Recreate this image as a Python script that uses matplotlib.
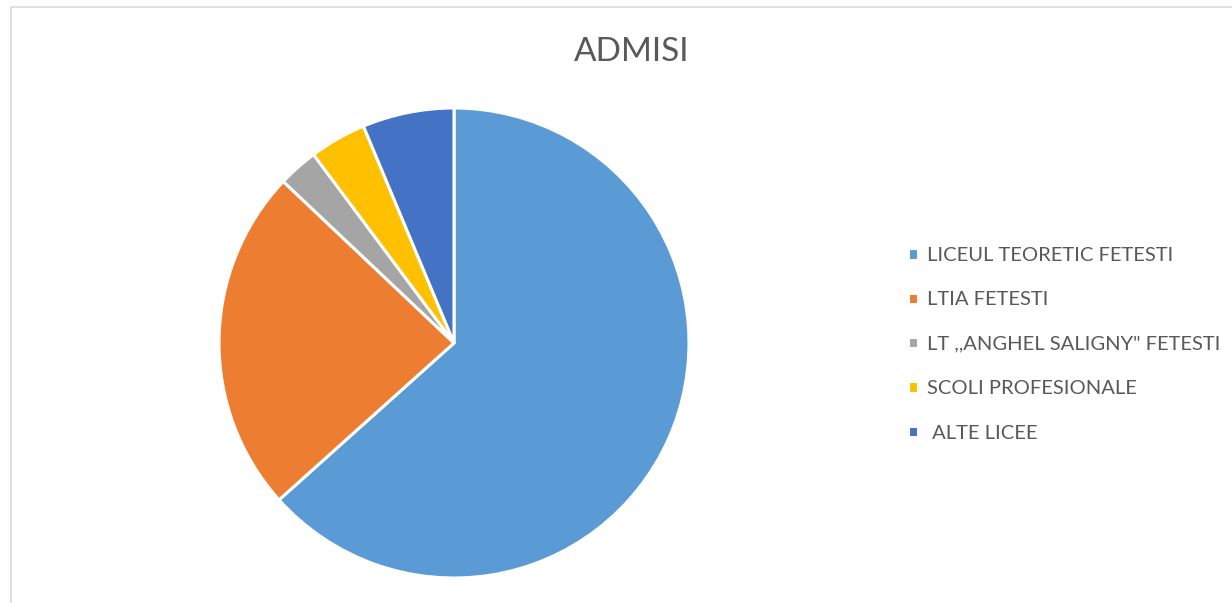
import matplotlib.pyplot as plt
from matplotlib.patches import Rectangle

# Date (procente aproximative)
scoli = ['LICEUL TEORETIC FETESTI', 'LTIA FETESTI', 'LT ,,ANGHEL SALIGNY" FETESTI',
         'SCOLI PROFESIONALE', ' ALTE LICEE']
procente = [63.4, 23.7, 2.75, 3.9, 6.3]
culori = ['#5B9BD5', '#ED7D31', '#A5A5A5', '#FFC000', '#4472C4']

plt.rcParams['font.family'] = ['Lato', 'DejaVu Sans']

W, H = 1232, 603
fig = plt.figure(figsize=(W / 100, H / 100), dpi=100)

# chenarul gri al graficului
fig.patches.append(Rectangle((11 / W, -0.1), 1.2, (H - 7) / H + 0.1, transform=fig.transFigure,
                             fill=False, edgecolor='#D9D9D9', linewidth=1.2))

cx, cy, r = 454, 343, 235
ax = fig.add_axes([(cx - r) / W, (H - cy - r) / H, 2 * r / W, 2 * r / H])
felii, _ = ax.pie(procente, colors=culori, startangle=90, counterclock=False,
                  wedgeprops=dict(edgecolor='white', linewidth=2.2))
ax.set_xlim(-1, 1)
ax.set_ylim(-1, 1)
ax.set_aspect('equal')

fig.text(632 / W, 1 - 52 / H, 'ADMISI', ha='center', va='center', fontsize=24, color='#595959')

leg = fig.legend(felii, scoli, loc='upper left', bbox_to_anchor=(898 / W, 1 - 237 / H),
                 frameon=False, fontsize=14.5, labelcolor='#595959', handlelength=0.5,
                 handleheight=0.5, handletextpad=0.45, labelspacing=1.36, borderpad=0)

fig.savefig('out.png', dpi=100)
